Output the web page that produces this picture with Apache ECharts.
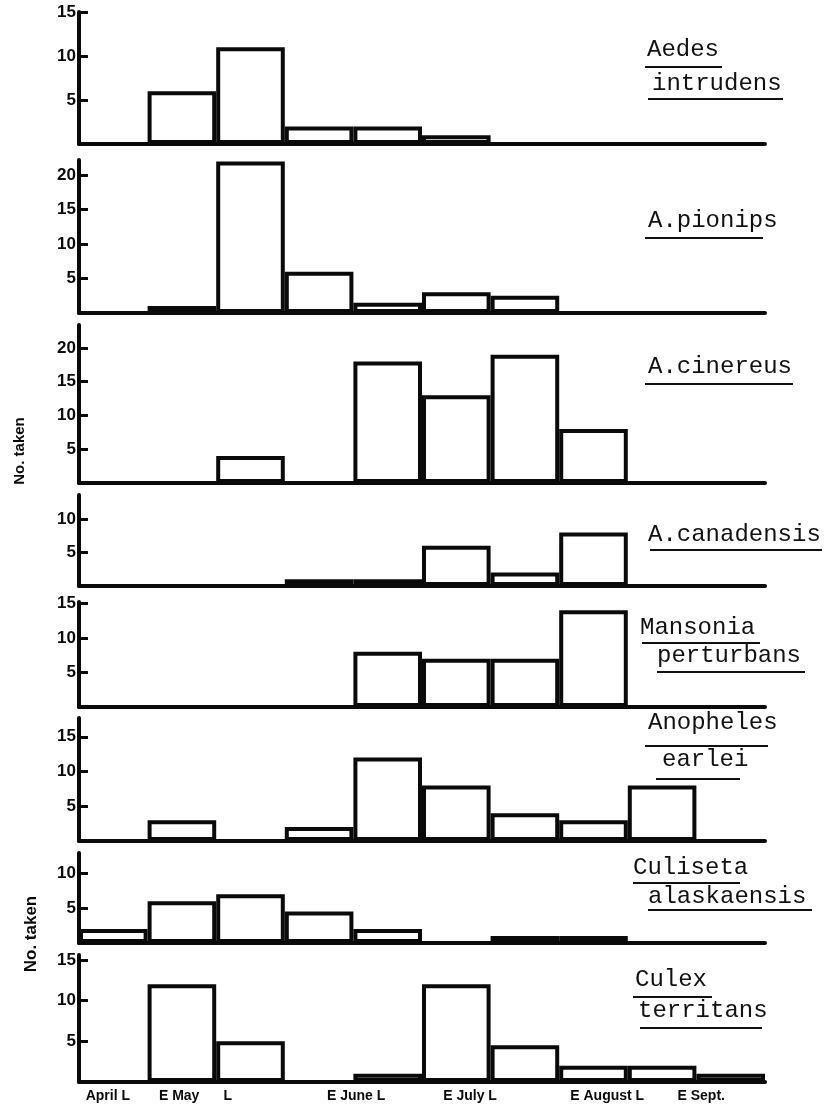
<!DOCTYPE html>
<html>
<head>
<meta charset="utf-8">
<script src="https://cdn.jsdelivr.net/npm/echarts@6/dist/echarts.min.js"></script>
<style>
  html, body { margin: 0; padding: 0; background: #fff; }
  #chart { width: 830px; height: 1112px; }
</style>
</head>
<body>
<div id="chart"></div>
<script>
// Half-month collecting periods, April (late) to September (early)
const periods = ['April L', 'E May', 'L May', 'E June', 'L June', 'E July', 'L July', 'E August', 'L August', 'E Sept.'];

// Numbers taken per period for each species
const aedesIntrudens      = [0, 6, 11, 2, 2, 1, 0, 0, 0, 0];
const aedesPionips        = [0, 1, 22, 6, 1.5, 3, 2.5, 0, 0, 0];
const aedesCinereus       = [0, 0, 4, 0, 18, 13, 19, 8, 0, 0];
const aedesCanadensis     = [0, 0, 0, 1, 1, 6, 2, 8, 0, 0];
const mansoniaPerturbans  = [0, 0, 0, 0, 8, 7, 7, 14, 0, 0];
const anophelesEarlei     = [0, 3, 0, 2, 12, 8, 4, 3, 8, 0];
const culisetaAlaskaensis = [2, 6, 7, 4.5, 2, 0, 1, 1, 0, 0];
const culexTerritans      = [0, 12, 5, 0, 1, 12, 4.5, 2, 2, 1];

// Y tick labels of each panel
const ticksIntrudens   = [5, 10, 15];
const ticksPionips     = [5, 10, 15, 20];
const ticksCinereus    = [5, 10, 15, 20];
const ticksCanadensis  = [5, 10];
const ticksPerturbans  = [5, 10, 15];
const ticksEarlei      = [5, 10, 15];
const ticksAlaskaensis = [5, 10];
const ticksTerritans   = [5, 10, 15];

// Date labels under the bottom axis
const dateLabels = ['April L', 'E May', 'L', 'E June L', 'E July L', 'E August L', 'E Sept.'];

// Layout of the eight stacked panels (pixels) and their value ranges
const panels = [
  { data: aedesIntrudens,      ticks: ticksIntrudens,   top: 12,  base: 144,  max: 15,   name: ['Aedes', 'intrudens'] },
  { data: aedesPionips,        ticks: ticksPionips,     top: 160, base: 313,  max: 22.2, name: ['A.pionips'] },
  { data: aedesCinereus,       ticks: ticksCinereus,    top: 325, base: 483,  max: 23.4, name: ['A.cinereus'] },
  { data: aedesCanadensis,     ticks: ticksCanadensis,  top: 495, base: 586,  max: 13.6, name: ['A.canadensis'] },
  { data: mansoniaPerturbans,  ticks: ticksPerturbans,  top: 602, base: 707,  max: 15.2, name: ['Mansonia', 'perturbans'] },
  { data: anophelesEarlei,     ticks: ticksEarlei,      top: 718, base: 841,  max: 17.7, name: ['Anopheles', 'earlei'] },
  { data: culisetaAlaskaensis, ticks: ticksAlaskaensis, top: 853, base: 943,  max: 12.9, name: ['Culiseta', 'alaskaensis'] },
  { data: culexTerritans,      ticks: ticksTerritans,   top: 955, base: 1082, max: 15.6, name: ['Culex', 'territans'] }
];

// Where each date label sits along the bottom axis, in period units
const dateLabelAt = [0.42, 1.46, 2.17, 4.04, 5.70, 7.70, 9.07];

// Species name placement: [text, left x, middle y, underline x1, underline x2, underline y]
const nameLayout = [
  ['Aedes',        647, 50,  645, 722, 67],
  ['intrudens',    652, 84,  648, 783, 99],
  ['A.pionips',    648, 221, 645, 763, 238],
  ['A.cinereus',   648, 367, 645, 793, 384],
  ['A.canadensis', 648, 535, 650, 822, 550],
  ['Mansonia',     640, 628, 642, 760, 643],
  ['perturbans',   657, 656, 657, 805, 672],
  ['Anopheles',    648, 723, 645, 768, 746],
  ['earlei',       662, 760, 656, 740, 779],
  ['Culiseta',     633, 868, 633, 740, 883],
  ['alaskaensis',  648, 897, 648, 812, 910],
  ['Culex',        635, 980, 633, 712, 997],
  ['territans',    638, 1011, 640, 762, 1028]
];

const INK = '#0a0a0a';
const LEFT = 79, RIGHT = 65;
const tickFont = { fontFamily: 'Liberation Sans, Arial, sans-serif', fontWeight: 'bold', fontSize: 17, color: INK };

const grid = [], xAxis = [], yAxis = [], series = [];
panels.forEach((p, i) => {
  grid.push({ left: LEFT, right: RIGHT, top: p.top, height: p.base - p.top, outerBoundsMode: 'none', containLabel: false });
  xAxis.push({
    type: 'category', gridIndex: i, data: periods, position: 'bottom',
    axisLine: { lineStyle: { color: INK, width: 4, cap: 'round' } },
    axisTick: { show: false }, axisLabel: { show: false }, splitLine: { show: false }
  });
  yAxis.push({
    type: 'value', gridIndex: i, min: 0, max: p.max,
    axisLine: { show: true, lineStyle: { color: INK, width: 4, cap: 'round' } },
    axisTick: { show: true, inside: true, length: 9, customValues: p.ticks, lineStyle: { color: INK, width: 3 } },
    axisLabel: { show: true, margin: 3, customValues: p.ticks, ...tickFont },
    splitLine: { show: false }
  });
  series.push({
    type: 'bar', xAxisIndex: i, yAxisIndex: i,
    data: p.data.map(v => (v > 0 ? v : '-')),
    barCategoryGap: '0%',
    itemStyle: { color: '#fff', borderColor: INK, borderWidth: 4 },
    silent: true
  });
});

// Extra axis on the bottom panel that carries the date labels
xAxis.push({
  type: 'value', gridIndex: panels.length - 1, min: 0, max: 10, position: 'bottom',
  axisLine: { show: false }, axisTick: { show: false }, splitLine: { show: false },
  axisLabel: {
    show: true, margin: 7,
    customValues: dateLabelAt,
    formatter: v => {
      const k = dateLabelAt.findIndex(d => Math.abs(d - v) < 1e-6);
      return k >= 0 ? dateLabels[k] : '';
    },
    fontFamily: 'Liberation Sans, Arial, sans-serif', fontWeight: 'bold', fontSize: 14, color: INK
  }
});

const graphic = [];
nameLayout.forEach(([t, x, y, ux1, ux2, uy]) => {
  graphic.push({
    type: 'text', x: x, y: y,
    style: { text: t, fill: '#111', font: '24px "Liberation Mono", "DejaVu Sans Mono", monospace', verticalAlign: 'middle', align: 'left' }
  });
  graphic.push({
    type: 'line', shape: { x1: ux1, y1: uy, x2: ux2, y2: uy },
    style: { stroke: '#111', lineWidth: 2 }
  });
});
// Shared y-axis title, repeated beside the upper and lower halves
[[20, 451, 15], [31, 934, 17]].forEach(([x, y, s]) => {
  graphic.push({
    type: 'text', x: x, y: y, rotation: Math.PI / 2,
    style: { text: 'No. taken', fill: INK, font: 'bold ' + s + 'px "Liberation Sans", Arial, sans-serif', align: 'center', verticalAlign: 'middle' }
  });
});

const chart = echarts.init(document.getElementById('chart'), null, { renderer: 'canvas' });
chart.setOption({
  backgroundColor: '#fff',
  animation: false,
  grid, xAxis, yAxis, series, graphic
});
</script>
</body>
</html>
